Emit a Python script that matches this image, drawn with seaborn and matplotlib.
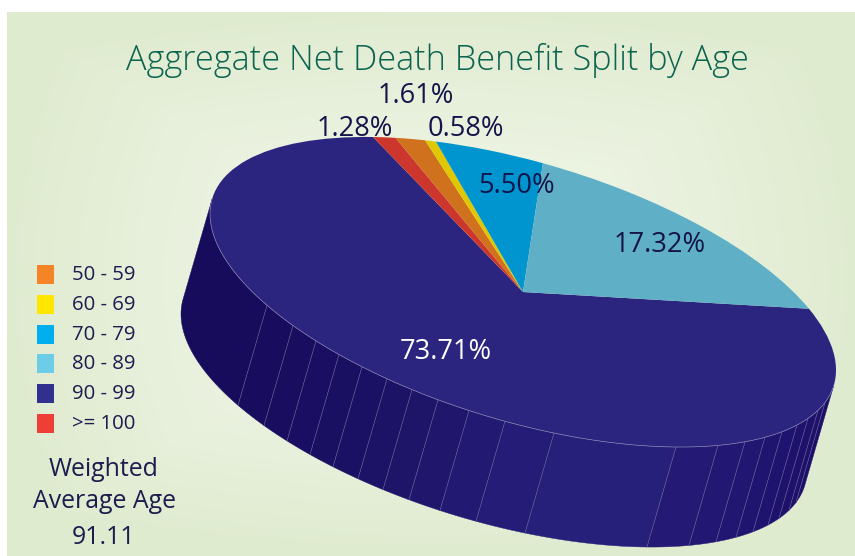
import numpy as np
import matplotlib
matplotlib.use("Agg")
import matplotlib.pyplot as plt
from matplotlib.patches import Polygon, Rectangle
from matplotlib.transforms import Affine2D
from matplotlib.colors import to_rgb
import seaborn as sns

# ---- data ----
title = "Aggregate Net Death Benefit Split by Age"
slice_labels = ["90 - 99", ">= 100", "50 - 59", "60 - 69", "70 - 79", "80 - 89"]
slice_values = [73.71, 1.28, 1.61, 0.58, 5.50, 17.32]
slice_colors = ["#2b2580", "#cc362c", "#cf711d", "#e0c800", "#0095cf", "#5fb0c6"]
legend_labels = ["50 - 59", "60 - 69", "70 - 79", "80 - 89", "90 - 99", ">= 100"]
legend_colors = ["#f58426", "#ffe600", "#00aeef", "#6dcde8", "#32308f", "#ef3e36"]
value_labels = ["1.61%", "1.28%", "0.58%", "5.50%", "17.32%", "73.71%"]
note_lines = ["Weighted", "Average Age", "91.11"]

sns.set_theme(style="white")
plt.rcParams["font.family"] = ["Open Sans", "DejaVu Sans"]

W, H = 855, 556
fig = plt.figure(figsize=(W / 100, H / 100), dpi=100, facecolor="white")
ax = fig.add_axes([0, 0, 1, 1])

# background gradient
yy, xx = np.mgrid[12:556, 7:855]
r = np.sqrt(((xx - 430) / 430.0) ** 2 + ((yy - 280) / 285.0) ** 2)
s = np.maximum(np.abs(xx - 430) / 430.0, np.abs(yy - 280) / 270.0)
t = np.clip(0.35 * r + 0.65 * s, 0, 1)[..., None] ** 1.3
c0, c1 = np.array(to_rgb("#f3f8ec")), np.array(to_rgb("#dfebcf"))
ax.imshow(c0 + (c1 - c0) * t, extent=(7, 855, 556, 12), zorder=0, aspect="auto")

# pie geometry: unit circle -> tilted ellipse on the page
M = np.array([[313.0, 0.0], [78.0, 134.0]])
C = np.array([523.0, 292.0])
D = np.array([-29.0, 100.0])
def P(phi):
    return (M @ np.vstack([np.cos(phi), np.sin(phi)])).T + C

# side wall: tangent points where (-sin, cos) is parallel to the extrusion
dinv = np.linalg.solve(M, D)
phi_a = np.arctan2(-dinv[0], dinv[1])
phi_b = phi_a + np.pi
if np.cos(phi_a) < 0:
    phi_a, phi_b = phi_b, phi_a
phi_a = (phi_a + 2 * np.pi) % (2 * np.pi)
if phi_a > np.pi:
    phi_a -= 2 * np.pi
phi_b = (phi_b + 2 * np.pi) % (2 * np.pi)

rib_x = [825, 818, 808, 797, 782, 765, 745, 718, 676, 554, 505, 469, 438, 412, 387,
         362, 339, 316, 293, 267]
rib_phi = [np.arccos((x - C[0]) / M[0, 0]) for x in rib_x]
edges = [phi_a] + rib_phi + [phi_b]

wall_x = [211, 290, 400, 520, 620, 700, 780, 832]
wall_c = ["#170b5c", "#180c5e", "#1c1366", "#241c76", "#27207a", "#241a76", "#1f1470", "#1c1068"]
wall_rgb = np.array([to_rgb(c) for c in wall_c])
for a, b in zip(edges[:-1], edges[1:]):
    ph = np.linspace(a, b, 40)
    top = P(ph)
    mx = top[:, 0].mean()
    col = [np.interp(mx, wall_x, wall_rgb[:, i]) for i in range(3)]
    ax.add_patch(Polygon(np.vstack([top, (top + D)[::-1]]), closed=True, fc=col, ec=col,
                         lw=0.3, zorder=2))
for ph in rib_phi:
    p = P(np.array([ph]))[0]
    ax.plot([p[0], p[0] + D[0]], [p[1], p[1] + D[1]], color="#6f6b9f", lw=0.4, zorder=3)

# pie top
wedges, _ = ax.pie(slice_values, colors=sns.color_palette(slice_colors), startangle=-24,
                   counterclock=True, radius=1, frame=True, labels=None,
                   wedgeprops=dict(linewidth=0))
T = Affine2D.from_values(M[0, 0], M[1, 0], M[0, 1], M[1, 1], C[0], C[1]) + ax.transData
for w in wedges:
    w.set_transform(T)
    w.set_zorder(4)
ph = np.linspace(phi_a, phi_b, 300)
rim = P(ph)
ax.plot(rim[:, 0], rim[:, 1], color="#8f8bb8", lw=0.45, zorder=5)

# value labels
label_xy = [(416, 96), (355, 129), (466, 129), (517, 186), (660, 245), (446, 352)]
label_col = ["#14144a"] * 5 + ["white"]
for s_, (x, y), c in zip(value_labels, label_xy, label_col):
    ax.text(x, y, s_, ha="center", va="center", fontsize=19.6, color=c, zorder=6)

# title
ax.text(437, 60, title, ha="center", va="center", fontsize=24.7, color="#0b6350",
        fontweight="light", zorder=6)

# legend
for i, (lab, col) in enumerate(zip(legend_labels, legend_colors)):
    y0 = 265 + i * 29.8
    ax.add_patch(Rectangle((37, y0), 17, 19, fc=col, ec="none", zorder=6))
    ax.text(72, y0 + 10, lab, ha="left", va="center", fontsize=14.7, color="#1c1c4e", zorder=6)

# note
for s_, y in zip(note_lines, [470, 502, 537]):
    ax.text(104, y, s_, ha="center", va="center", fontsize=17.9, color="#1c1c4e", zorder=6)

ax.set_xlim(0, W)
ax.set_ylim(H, 0)
ax.set_aspect("auto")
ax.axis("off")
fig.savefig("out.png", dpi=100, facecolor="white")
